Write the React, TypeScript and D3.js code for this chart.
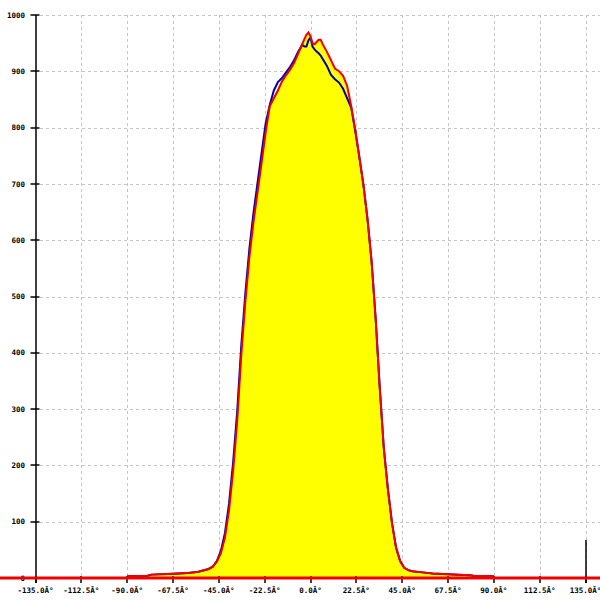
import React, { useEffect, useRef } from 'react';
import * as d3 from 'd3';

// angle grid (degrees) shared by both series
const angles = [
  -90, -80, -78, -70, -60, -55, -50, -48, -46, -44, -42, -40, -38, -36, -34, -32, -30, -28, -26, -24, -22, -20,
  -18, -16, -14, -12, -10, -8, -6, -4, -3, -2, -1, 0, 1, 2, 3, 4, 5, 6, 8, 10, 12, 14, 16, 18, 20, 22, 24, 26,
  28, 30, 32, 34, 36, 38, 40, 42, 44, 46, 48, 50, 55, 60, 70, 78, 80, 90,
];

// red series (also the yellow fill)
const redValues = [
  3, 4, 6, 7, 9, 11, 16, 20, 29, 44, 72, 120, 190, 278, 395, 490, 570, 632, 685, 738, 792, 838,
  852, 866, 882, 893, 903, 915, 932, 949, 957, 965, 969, 962, 950, 948, 952, 956, 956, 948, 935, 920, 905, 900, 892, 874, 838, 796, 747, 698,
  637, 562, 460, 338, 230, 158, 98, 54, 30, 18, 14, 12, 10, 8, 6, 5, 4, 3,
];

// blue series
const blueValues = [
  3, 4, 6, 7, 9, 11, 16, 20, 30, 48, 80, 132, 205, 295, 412, 505, 585, 648, 702, 755, 808, 840,
  866, 881, 888, 898, 908, 920, 935, 947, 944, 944, 955, 960, 944, 939, 935, 932, 928, 922, 910, 894, 886, 880, 869, 852, 835, 793, 747, 698,
  637, 562, 460, 338, 230, 158, 98, 54, 30, 18, 14, 12, 10, 8, 6, 5, 4, 3,
];

const xTicks = [-135, -112.5, -90, -67.5, -45, -22.5, 0, 22.5, 45, 67.5, 90, 112.5, 135];
const yTicks = [0, 100, 200, 300, 400, 500, 600, 700, 800, 900, 1000];

const App: React.FC = () => {
  const ref = useRef<SVGSVGElement>(null);

  useEffect(() => {
    if (!ref.current) return;
    const svg = d3.select(ref.current);
    svg.selectAll('*').remove();

    const width = 600;
    const height = 600;
    const x = d3.scaleLinear().domain([-135, 135]).range([35.5, 585.5]);
    const y = d3.scaleLinear().domain([0, 1000]).range([578, 15]);

    svg.append('rect').attr('width', width).attr('height', height).attr('fill', '#ffffff');

    const font = '"DejaVu Sans Mono", monospace';

    // grid
    const grid = svg.append('g').attr('stroke', '#c4c4c4').attr('stroke-width', 1).attr('stroke-dasharray', '3,3');
    grid.selectAll('.hg')
      .data(yTicks.filter(d => d > 0))
      .enter()
      .append('line')
      .attr('x1', 40)
      .attr('x2', width)
      .attr('y1', d => Math.round(y(d)) + 0.5)
      .attr('y2', d => Math.round(y(d)) + 0.5);
    grid.selectAll('.vg')
      .data(xTicks.filter(d => d > -135))
      .enter()
      .append('line')
      .attr('x1', d => Math.round(x(d)) + 0.5)
      .attr('x2', d => Math.round(x(d)) + 0.5)
      .attr('y1', y(1000))
      .attr('y2', y(0));

    // filled area under the red series
    const pts = angles.map((a, i) => ({ a, r: redValues[i], b: blueValues[i] }));
    const area = d3.area<any>()
      .x(d => x(d.a))
      .y0(y(0))
      .y1(d => y(d.r));
    svg.append('path').datum(pts).attr('d', area).attr('fill', '#ffff00');

    // axes
    const ax = svg.append('g').attr('stroke', '#000').attr('stroke-width', 1.5);
    ax.append('line')
      .attr('x1', Math.round(x(-135)))
      .attr('x2', Math.round(x(-135)))
      .attr('y1', y(1000))
      .attr('y2', y(0) + 5);
    ax.append('line')
      .attr('x1', Math.round(x(135)))
      .attr('x2', Math.round(x(135)))
      .attr('y1', 540)
      .attr('y2', y(0) + 5);
    ax.selectAll('.yt')
      .data(yTicks)
      .enter()
      .append('line')
      .attr('x1', x(-135) - 5)
      .attr('x2', x(-135) + 4)
      .attr('y1', d => Math.round(y(d)))
      .attr('y2', d => Math.round(y(d)));
    ax.selectAll('.xt')
      .data(xTicks)
      .enter()
      .append('line')
      .attr('x1', d => Math.round(x(d)))
      .attr('x2', d => Math.round(x(d)))
      .attr('y1', y(0) - 2)
      .attr('y2', y(0) + 5);

    svg.selectAll('.yl')
      .data(yTicks)
      .enter()
      .append('text')
      .attr('x', 25)
      .attr('y', d => y(d))
      .attr('dy', '0.35em')
      .attr('text-anchor', 'end')
      .attr('font-family', font)
      .attr('font-size', '7.5px')
      .attr('font-weight', 'bold')
      .attr('fill', '#000')
      .text(d => `${d}`);

    svg.selectAll('.xl')
      .data(xTicks)
      .enter()
      .append('text')
      .attr('x', d => x(d))
      .attr('y', 593)
      .attr('text-anchor', 'middle')
      .attr('font-family', font)
      .attr('font-size', '7.5px')
      .attr('font-weight', 'bold')
      .attr('fill', '#000')
      .text(d => `${d.toFixed(1)}Â°`);

    // lines
    const blueLine = d3.line<any>().x(d => x(d.a)).y(d => y(d.b));
    const redLine = d3.line<any>().x(d => x(d.a)).y(d => y(d.r));
    svg.append('path').datum(pts).attr('d', blueLine).attr('fill', 'none').attr('stroke', '#0000b4').attr('stroke-width', 2);
    svg.append('path').datum(pts).attr('d', redLine).attr('fill', 'none').attr('stroke', '#ee0000').attr('stroke-width', 2);

    // red baseline
    svg.append('line')
      .attr('x1', 0)
      .attr('x2', width)
      .attr('y1', y(0))
      .attr('y2', y(0))
      .attr('stroke', '#ee0000')
      .attr('stroke-width', 3);
  }, []);

  return (
    <svg
      ref={ref}
      width={600}
      height={600}
      style={{ position: 'absolute', left: 0, top: 0, display: 'block' }}
    />
  );
};

export default App;
